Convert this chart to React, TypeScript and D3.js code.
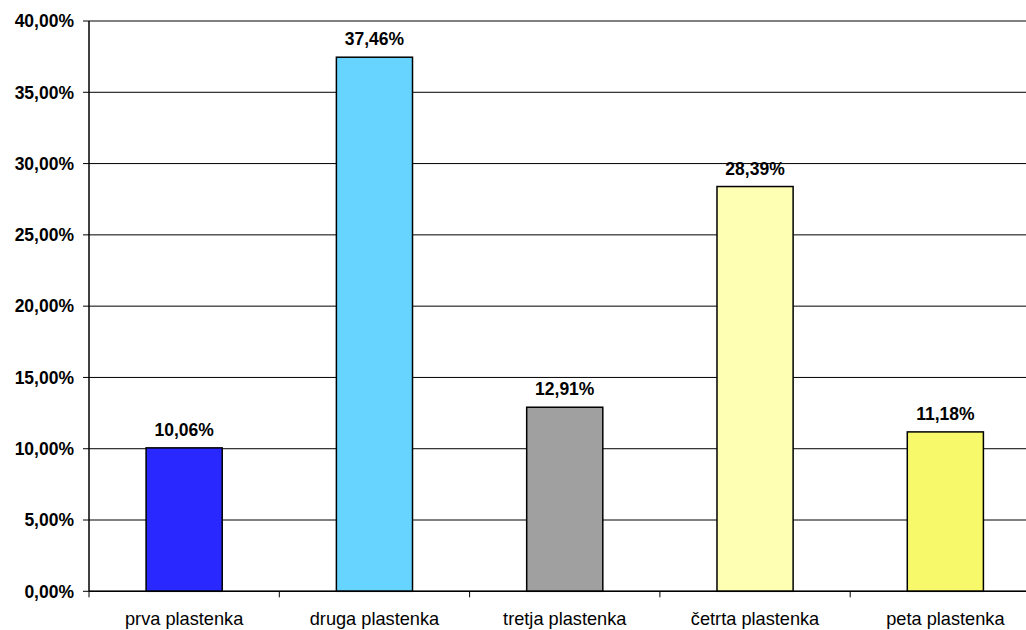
import React from "react";
import * as d3 from "d3";

const categories = ["prva plastenka", "druga plastenka", "tretja plastenka", "četrta plastenka", "peta plastenka"];
const shares = [10.06, 37.46, 12.91, 28.39, 11.18];
const barColors = ["#2929FF", "#66D4FF", "#A0A0A0", "#FFFFB3", "#F8F86B"];
const yTicks = [0, 5, 10, 15, 20, 25, 30, 35, 40];

const W = 1026;
const H = 630;
const left = 89;
const right = 1040.5;
const top = 21;
const bottom = 591.3;

const fmt = (v: number) => v.toFixed(2).replace(".", ",") + "%";

export default function App() {
  const x = d3.scaleBand<string>().domain(categories).range([left, right]).paddingInner(0.6).paddingOuter(0.3);
  const xb = d3.scaleBand<string>().domain(categories).range([left, right]);
  const y = d3.scaleLinear().domain([0, 40]).range([bottom, top]);
  const font = "Arial, 'Liberation Sans', sans-serif";

  return (
    <div style={{ position: "absolute", left: 0, top: 0 }}>
      <svg width={W} height={H} style={{ display: "block", background: "#fff" }} fontFamily={font}>
        {/* horizontal gridlines */}
        {yTicks.map((t) => (
          <line key={"g" + t} x1={left} x2={right} y1={y(t)} y2={y(t)} stroke={t === 40 ? "#808080" : "#000"} strokeWidth={t === 40 ? 2 : 1} />
        ))}
        {/* y tick marks and labels */}
        {yTicks.map((t) => (
          <g key={"t" + t}>
            <line x1={left - 6} x2={left} y1={y(t)} y2={y(t)} stroke="#000" strokeWidth={1} />
            <text x={74} y={y(t)} dy="0.36em" textAnchor="end" fontSize={17.5} fontWeight="bold" fill="#000">
              {fmt(t)}
            </text>
          </g>
        ))}
        {/* bars */}
        {categories.map((c, i) => (
          <rect
            key={c}
            x={x(c)}
            y={y(shares[i])}
            width={x.bandwidth()}
            height={y(0) - y(shares[i])}
            fill={barColors[i]}
            stroke="#000"
            strokeWidth={1.5}
          />
        ))}
        {/* value labels */}
        {categories.map((c, i) => (
          <text
            key={"v" + c}
            x={(x(c) as number) + x.bandwidth() / 2}
            y={y(shares[i]) - 12}
            textAnchor="middle"
            fontSize={17.5}
            fontWeight="bold"
            fill="#000"
          >
            {fmt(shares[i])}
          </text>
        ))}
        {/* axes */}
        <line x1={left} x2={left} y1={top} y2={bottom} stroke="#000" strokeWidth={1.5} />
        <line x1={left} x2={right} y1={bottom} y2={bottom} stroke="#000" strokeWidth={1.5} />
        {categories.map((c) => (
          <line key={"xt" + c} x1={xb(c)} x2={xb(c)} y1={bottom} y2={bottom + 6} stroke="#000" strokeWidth={1} />
        ))}
        {categories.map((c) => (
          <text
            key={"xl" + c}
            x={(xb(c) as number) + xb.bandwidth() / 2}
            y={625}
            textAnchor="middle"
            fontSize={18.2}
            fill="#000"
          >
            {c}
          </text>
        ))}
      </svg>
    </div>
  );
}
